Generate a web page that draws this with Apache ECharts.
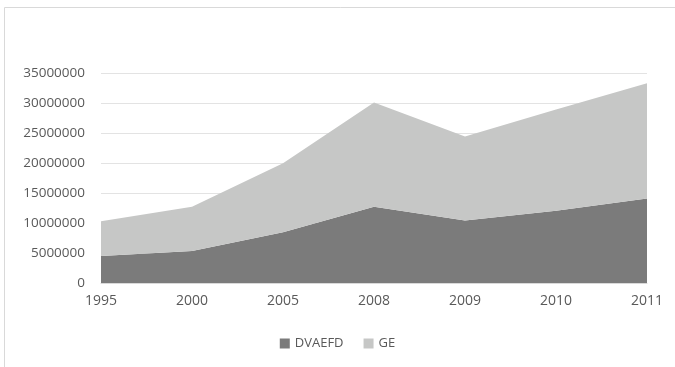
<!DOCTYPE html>
<html>
<head>
<meta charset="utf-8">
<script src="https://cdn.jsdelivr.net/npm/echarts@6/dist/echarts.min.js"></script>
<style>html,body{margin:0;padding:0;background:#fff;}#c{width:675px;height:367px;}</style>
</head>
<body>
<div id="c"></div>
<script>
var categories = ['1995','2000','2005','2008','2009','2010','2011'];
var dvaefd = [4500000, 5350000, 8450000, 12700000, 10400000, 12050000, 14100000];
var ge = [5800000, 7350000, 11500000, 17400000, 14000000, 16850000, 19200000];
var yTicks = [0, 5000000, 10000000, 15000000, 20000000, 25000000, 30000000, 35000000];

var chart = echarts.init(document.getElementById('c'));
var font = 'Open Sans';
chart.setOption({
  animation: false,
  graphic: [{
    type: 'rect', silent: true,
    shape: {x: 4.5, y: 7.5, width: 720, height: 420},
    style: {fill: 'none', stroke: '#d9d9d9', lineWidth: 1}
  }],
  grid: {left: 101, right: 28, top: 73, bottom: 84, containLabel: false},
  legend: {
    bottom: 12, left: 'center',
    itemWidth: 10, itemHeight: 10, itemGap: 20,
    icon: 'rect',
    textStyle: {color: '#595959', fontFamily: font, fontSize: 13},
    data: ['DVAEFD', 'GE']
  },
  xAxis: {
    type: 'category', data: categories, boundaryGap: false,
    axisLine: {lineStyle: {color: '#d9d9d9'}},
    axisTick: {show: false},
    axisLabel: {color: '#595959', fontFamily: font, fontSize: 14, margin: 11}
  },
  yAxis: {
    type: 'value', min: yTicks[0], max: yTicks[yTicks.length-1], interval: 5000000,
    axisLine: {show: false}, axisTick: {show: false},
    splitLine: {lineStyle: {color: '#e3e3e3'}},
    axisLabel: {color: '#595959', fontFamily: font, fontSize: 13.5, margin: 16,
      formatter: function (v) { return String(v); }}
  },
  series: [
    {name: 'DVAEFD', type: 'line', stack: 'a', data: dvaefd, symbol: 'none',
     lineStyle: {width: 0}, areaStyle: {color: '#7b7b7b', opacity: 1}, itemStyle: {color: '#7b7b7b'}},
    {name: 'GE', type: 'line', stack: 'a', data: ge, symbol: 'none',
     lineStyle: {width: 0}, areaStyle: {color: '#c6c7c6', opacity: 1}, itemStyle: {color: '#c6c7c6'}}
  ]
});
</script>
</body>
</html>
